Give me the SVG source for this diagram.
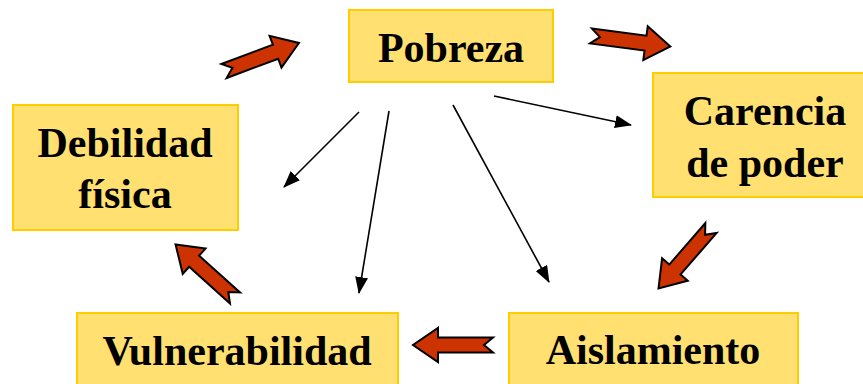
<svg xmlns="http://www.w3.org/2000/svg" xmlns:xlink="http://www.w3.org/1999/xlink" width="863" height="384" viewBox="0 0 863 384">
<style>
.box{fill:#FFE070;stroke:#FFCC00;stroke-width:2}
.lbl{font-family:"Liberation Serif","Times New Roman",serif;font-weight:bold;font-size:42px;fill:#000;text-anchor:middle}
.thin{stroke:#000;stroke-width:1.6;fill:none;marker-end:url(#ah)}
.blk{fill:#CC3300;stroke:#000;stroke-width:2;stroke-linejoin:miter}
</style>
<defs>
<marker id="ah" viewBox="0 0 17 13" refX="16" refY="6.5" markerWidth="17" markerHeight="13" markerUnits="userSpaceOnUse" orient="auto">
<path d="M0,0 L17,6.5 L0,13 Z" fill="#000"/>
</marker>
<path id="barrow" d="M0,-7.5 L55,-7.5 L55,-17 L80,0 L55,17 L55,7.5 L0,7.5 L9,0 Z"/>
</defs>
<rect width="863" height="384" fill="#fff"/>
<g id="connectors">
<line class="thin" x1="359" y1="112" x2="284" y2="187"/>
<line class="thin" x1="389" y1="111" x2="359" y2="293"/>
<line class="thin" x1="494" y1="96" x2="631" y2="125"/>
<line class="thin" x1="453" y1="105" x2="549" y2="282"/>
<use xlink:href="#barrow" class="blk" transform="translate(224,71) rotate(-20.5)"/>
<use xlink:href="#barrow" class="blk" transform="translate(591,36) rotate(7.5)"/>
<use xlink:href="#barrow" class="blk" transform="translate(711,228) rotate(131)"/>
<use xlink:href="#barrow" class="blk" transform="translate(235,298) rotate(-138)"/>
<use xlink:href="#barrow" class="blk" transform="translate(493,345) rotate(180)"/>
</g>
<g id="pobreza">
<rect class="box" x="349" y="10" width="204" height="72"/>
<text class="lbl" x="451" y="62">Pobreza</text>
</g>
<g id="debilidad">
<rect class="box" x="13" y="105" width="225" height="125"/>
<text class="lbl" x="125" y="157">Debilidad</text>
<text class="lbl" x="125" y="208">física</text>
</g>
<g id="carencia">
<rect class="box" x="653" y="73" width="224" height="124"/>
<text class="lbl" x="765" y="125">Carencia</text>
<text class="lbl" x="765" y="177">de poder</text>
</g>
<g id="vulnerabilidad">
<rect class="box" x="77" y="313" width="321" height="80"/>
<text class="lbl" x="237" y="365">Vulnerabilidad</text>
</g>
<g id="aislamiento">
<rect class="box" x="509" y="313" width="289" height="80"/>
<text class="lbl" x="653" y="364">Aislamiento</text>
</g>
</svg>
